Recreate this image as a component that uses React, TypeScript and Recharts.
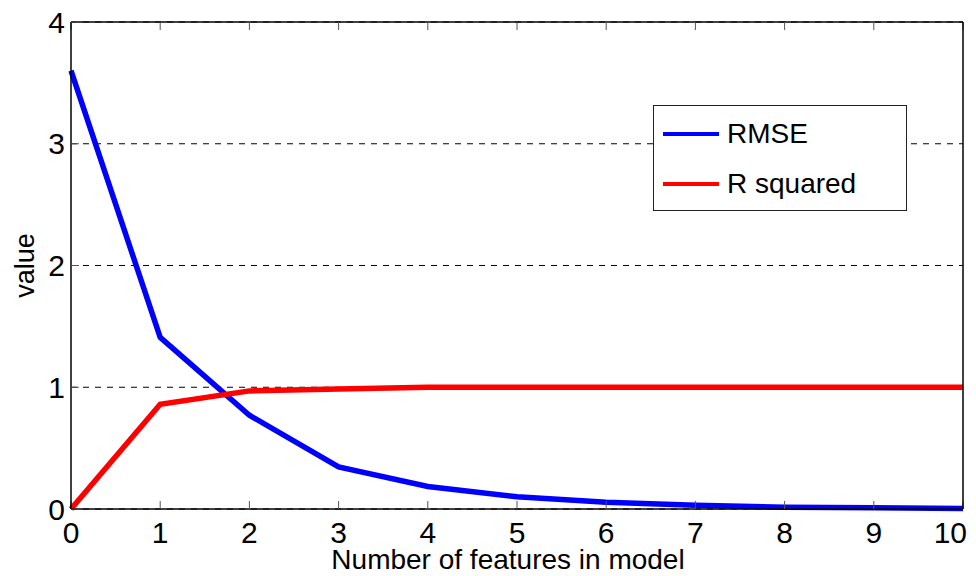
import { LineChart, Line, XAxis, YAxis, CartesianGrid, Legend } from 'recharts';

const FONT = '"Liberation Sans", Arial, Helvetica, sans-serif';

const features = [0, 1, 2, 3, 4, 5, 6, 7, 8, 9, 10];
const rmse = [3.6, 1.41, 0.77, 0.345, 0.185, 0.1, 0.055, 0.03, 0.015, 0.01, 0.005];
const rSquared = [0, 0.86, 0.97, 0.985, 1.0, 1.0, 1.0, 1.0, 1.0, 1.0, 1.0];
const xTicks = [0, 1, 2, 3, 4, 5, 6, 7, 8, 9, 10];
const yTicks = [0, 1, 2, 3, 4];

const data = features.map((x, i) => ({ x, rmse: rmse[i], r2: rSquared[i] }));

const series = [
  { key: 'rmse', name: 'RMSE', color: '#0000ff' },
  { key: 'r2', name: 'R squared', color: '#ff0000' },
];

function LegendBox() {
  return (
    <div
      style={{
        width: 254,
        height: 106,
        border: '1.5px solid #222',
        background: '#fff',
        boxSizing: 'border-box',
        fontFamily: FONT,
        fontSize: 28,
        color: '#000',
        paddingTop: 3,
      }}
    >
      {series.map((s) => (
        <div key={s.key} style={{ display: 'flex', alignItems: 'center', height: 50 }}>
          <div style={{ width: 56, height: 4, background: s.color, marginLeft: 9, marginRight: 8 }} />
          <span>{s.name}</span>
        </div>
      ))}
    </div>
  );
}

const hidden = () => <g />;

// last x label is pulled left so it stays inside the picture
function XTick(props: any) {
  const { x, y, payload } = props;
  const last = payload.value === xTicks[xTicks.length - 1];
  return (
    <text
      x={last ? x + 4 : x}
      y={y}
      dy="0.71em"
      textAnchor={last ? 'end' : 'middle'}
      fontSize={30}
      fontFamily={FONT}
      fill="#000"
    >
      {payload.value}
    </text>
  );
}

export default function App() {
  return (
    <div style={{ position: 'absolute', left: 0, top: 0, background: '#fff' }}>
      <LineChart width={976} height={576} data={data} margin={{ top: 21, right: 12, left: 0, bottom: 0 }}>
        <CartesianGrid vertical={false} stroke="#000" strokeDasharray="6 6" strokeWidth={1} yAxisId="left" />
        <XAxis
          dataKey="x"
          type="number"
          domain={[0, 10]}
          ticks={xTicks}
          height={67}
          stroke="#000"
          strokeWidth={1.5}
          tickSize={-8}
          tickMargin={21}
          tick={<XTick />}
          tickLine={{ stroke: '#555', strokeWidth: 1 }}
          interval={0}
          label={{
            value: 'Number of features in model',
            position: 'insideBottom',
            offset: 7,
            dx: -9,
            style: { fontSize: 28, fill: '#000', fontFamily: FONT },
          }}
        />
        <XAxis
          xAxisId="top"
          orientation="top"
          type="number"
          domain={[0, 10]}
          ticks={xTicks}
          height={1}
          stroke="#000"
          strokeWidth={1.5}
          tickSize={-8}
          tick={hidden}
          tickLine={{ stroke: '#555', strokeWidth: 1 }}
          interval={0}
        />
        <YAxis
          yAxisId="left"
          type="number"
          domain={[0, 4]}
          ticks={yTicks}
          width={71}
          stroke="#000"
          strokeWidth={1.5}
          tickSize={-8}
          tickMargin={14}
          tick={{ fontSize: 30, fill: '#000', fontFamily: FONT }}
          tickLine={{ stroke: '#555', strokeWidth: 1 }}
          interval={0}
          label={{
            value: 'value',
            angle: -90,
            position: 'center',
            dx: -11,
            style: { fontSize: 27, fill: '#000', fontFamily: FONT },
          }}
        />
        <YAxis
          yAxisId="right"
          orientation="right"
          type="number"
          domain={[0, 4]}
          ticks={yTicks}
          width={1}
          stroke="#000"
          strokeWidth={1.5}
          tickSize={-8}
          tick={hidden}
          tickLine={{ stroke: '#555', strokeWidth: 1 }}
          interval={0}
        />
        <Legend
          content={() => <LegendBox />}
          layout="horizontal"
          verticalAlign="middle"
          align="center"
          wrapperStyle={{ left: 653, top: 105, width: 254 }}
        />
        {series.map((s) => (
          <Line
            key={s.key}
            yAxisId="left"
            type="linear"
            dataKey={s.key}
            name={s.name}
            stroke={s.color}
            strokeWidth={5.5}
            dot={false}
            activeDot={false}
            isAnimationActive={false}
          />
        ))}
      </LineChart>
    </div>
  );
}
